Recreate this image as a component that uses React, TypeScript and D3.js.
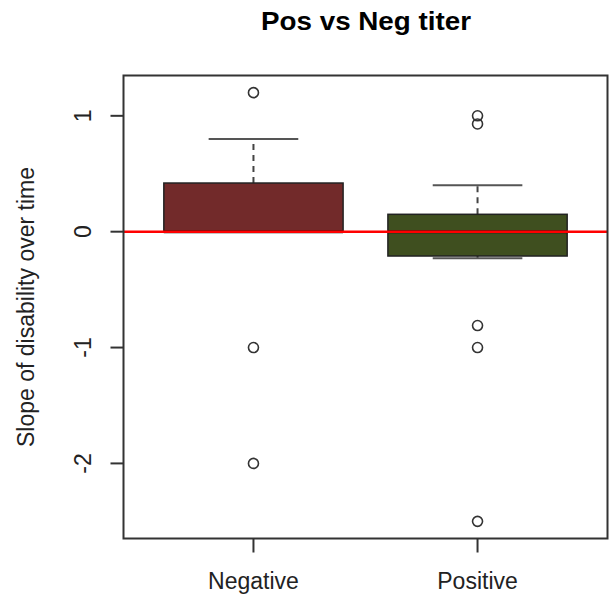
import { useEffect, useRef } from 'react';
import * as d3 from 'd3';

// Data
const groups = ['Negative', 'Positive'];
const boxFill = ['#722a2a', '#3f4f1f'];
// five-number summaries: lower whisker, Q1, median, Q3, upper whisker
const lowWhisker = [0, -0.23];
const q1 = [0, -0.21];
const medians = [0, 0];
const q3 = [0.42, 0.15];
const highWhisker = [0.8, 0.4];
const negativeOutliers = [1.2, -1, -2];
const positiveOutliers = [1.0, 0.93, -0.81, -1, -2.5];
const yTicks = [-2, -1, 0, 1];

export default function App() {
  const svgRef = useRef<SVGSVGElement>(null);

  useEffect(() => {
    const svg = d3.select(svgRef.current);
    svg.selectAll('*').remove();

    const width = 611;
    const height = 598;
    const left = 123.5, right = 607.5, top = 75.5, bottom = 538.5;
    const font = 'Liberation Sans, Arial, sans-serif';

    svg.attr('width', width).attr('height', height);

    const x = d3.scaleLinear().domain([0.42, 2.58]).range([left, right]);
    const y = d3.scaleLinear().domain([-2.648, 1.348]).range([bottom, top]);

    // Title
    svg.append('text')
      .attr('x', 366)
      .attr('y', 30)
      .attr('text-anchor', 'middle')
      .attr('textLength', 210)
      .attr('lengthAdjust', 'spacingAndGlyphs')
      .style('font-family', font)
      .style('font-weight', 'bold')
      .style('font-size', '26px')
      .text('Pos vs Neg titer');

    const outliers = [negativeOutliers, positiveOutliers];

    groups.forEach((name, i) => {
      const cx = x(i + 1);
      const g = svg.append('g');

      // whiskers
      g.append('line')
        .attr('x1', cx).attr('x2', cx)
        .attr('y1', y(q3[i])).attr('y2', y(highWhisker[i]))
        .attr('stroke', '#444').attr('stroke-width', 2)
        .attr('stroke-dasharray', '6,5');
      g.append('line')
        .attr('x1', cx).attr('x2', cx)
        .attr('y1', y(q1[i])).attr('y2', y(lowWhisker[i]))
        .attr('stroke', '#444').attr('stroke-width', 2)
        .attr('stroke-dasharray', '6,5');
      [lowWhisker[i], highWhisker[i]].forEach(v => {
        g.append('line')
          .attr('x1', x(i + 0.8)).attr('x2', x(i + 1.2))
          .attr('y1', y(v)).attr('y2', y(v))
          .attr('stroke', '#555').attr('stroke-width', 2);
      });

      // box
      g.append('rect')
        .attr('x', x(i + 0.6))
        .attr('width', x(i + 1.4) - x(i + 0.6))
        .attr('y', y(q3[i]))
        .attr('height', y(q1[i]) - y(q3[i]))
        .attr('fill', boxFill[i])
        .attr('stroke', '#222')
        .attr('stroke-width', 1.5);

      g.append('line')
        .attr('x1', x(i + 0.6)).attr('x2', x(i + 1.4))
        .attr('y1', y(medians[i])).attr('y2', y(medians[i]))
        .attr('stroke', '#111').attr('stroke-width', 3);

      // outliers
      g.selectAll('circle')
        .data(outliers[i])
        .enter()
        .append('circle')
        .attr('cx', cx)
        .attr('cy', d => y(d))
        .attr('r', 5)
        .attr('fill', 'none')
        .attr('stroke', '#333')
        .attr('stroke-width', 1.6);
    });

    // reference line at zero
    svg.append('line')
      .attr('x1', left).attr('x2', right)
      .attr('y1', y(0)).attr('y2', y(0))
      .attr('stroke', '#ff0000')
      .attr('stroke-width', 2.5);

    // frame
    svg.append('rect')
      .attr('x', left).attr('y', top)
      .attr('width', right - left).attr('height', bottom - top)
      .attr('fill', 'none')
      .attr('stroke', '#333')
      .attr('stroke-width', 2);

    // y axis
    yTicks.forEach(t => {
      svg.append('line')
        .attr('x1', left - 13).attr('x2', left)
        .attr('y1', y(t)).attr('y2', y(t))
        .attr('stroke', '#333').attr('stroke-width', 2);
      svg.append('text')
        .attr('transform', `translate(91,${y(t)}) rotate(-90)`)
        .attr('text-anchor', 'middle')
        .style('font-family', font)
        .style('font-size', '23px')
        .style('fill', '#222')
        .text(t);
    });

    // x axis
    groups.forEach((name, i) => {
      svg.append('line')
        .attr('x1', x(i + 1)).attr('x2', x(i + 1))
        .attr('y1', bottom).attr('y2', bottom + 14)
        .attr('stroke', '#333').attr('stroke-width', 2);
      svg.append('text')
        .attr('x', x(i + 1))
        .attr('y', 589)
        .attr('text-anchor', 'middle')
        .style('font-family', font)
        .style('font-size', '23px')
        .style('fill', '#222')
        .text(name);
    });

    // y label
    svg.append('text')
      .attr('transform', `translate(34,${(top + bottom) / 2}) rotate(-90)`)
      .attr('text-anchor', 'middle')
      .style('font-family', font)
      .style('font-size', '23px')
      .style('fill', '#222')
      .text('Slope of disability over time');
  }, []);

  return (
    <div style={{ position: 'absolute', left: 0, top: 0 }}>
      <svg ref={svgRef}></svg>
    </div>
  );
}
